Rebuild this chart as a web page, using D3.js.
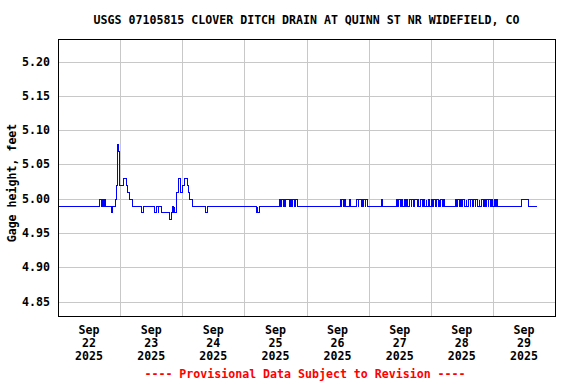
<!DOCTYPE html>
<html>
<head>
<meta charset="utf-8">
<script src="https://cdn.jsdelivr.net/npm/d3@7"></script>
<style>
  body { margin: 0; background: #fff; }
  svg text { font-family: "DejaVu Sans Mono", "Liberation Mono", monospace; font-weight: bold; font-size: 11.6px; }
</style>
</head>
<body>
<svg id="chart" width="576" height="384"></svg>
<script>
/* global d3 */
const title = "USGS 07105815 CLOVER DITCH DRAIN AT QUINN ST NR WIDEFIELD, CO";
const yTitle = "Gage height, feet";
const footer = "---- Provisional Data Subject to Revision ----";

// x range, one tick per day
const dayStart = "2025-09-22 00:00";
const dayEnd = "2025-09-30 00:00";
const dayTicks = ["2025-09-22", "2025-09-23", "2025-09-24", "2025-09-25",
                  "2025-09-26", "2025-09-27", "2025-09-28", "2025-09-29"];

// y range and ticks
const yDomain = [4.829, 5.233];
const yTicks = [4.85, 4.90, 4.95, 5.00, 5.05, 5.10, 5.15, 5.20];

// gage readings where the value changes (held until the next one)
const stepTimes = [
  "2025-09-22 00:00", "2025-09-22 16:00", "2025-09-22 16:30", "2025-09-22 17:00", "2025-09-22 17:15",
  "2025-09-22 17:45", "2025-09-22 18:15", "2025-09-22 20:30", "2025-09-22 21:00", "2025-09-22 22:00",
  "2025-09-22 22:30", "2025-09-22 22:45", "2025-09-22 23:00", "2025-09-22 23:30", "2025-09-22 23:45",
  "2025-09-23 01:15", "2025-09-23 02:15", "2025-09-23 02:45", "2025-09-23 03:15", "2025-09-23 04:45",
  "2025-09-23 08:00", "2025-09-23 08:45", "2025-09-23 13:15", "2025-09-23 13:45", "2025-09-23 14:30",
  "2025-09-23 14:45", "2025-09-23 15:45", "2025-09-23 19:00", "2025-09-23 19:30", "2025-09-23 20:00",
  "2025-09-23 20:15", "2025-09-23 20:45", "2025-09-23 21:00", "2025-09-23 21:30", "2025-09-23 21:45",
  "2025-09-23 22:15", "2025-09-23 22:30", "2025-09-23 23:00", "2025-09-23 23:15", "2025-09-23 23:45",
  "2025-09-24 00:30", "2025-09-24 01:45", "2025-09-24 02:15", "2025-09-24 02:45", "2025-09-24 03:45",
  "2025-09-24 08:45", "2025-09-24 09:30",
  "2025-09-25 04:30", "2025-09-25 04:45", "2025-09-25 05:00", "2025-09-25 05:30",
  "2025-09-25 13:30", "2025-09-25 13:45", "2025-09-25 14:00", "2025-09-25 14:45", "2025-09-25 15:00",
  "2025-09-25 15:30", "2025-09-25 15:45", "2025-09-25 17:15", "2025-09-25 17:30", "2025-09-25 18:00",
  "2025-09-25 18:15", "2025-09-25 19:15", "2025-09-25 19:30", "2025-09-25 20:15",
  "2025-09-26 13:00", "2025-09-26 13:15", "2025-09-26 13:30", "2025-09-26 14:15", "2025-09-26 14:30",
  "2025-09-26 15:00", "2025-09-26 16:30", "2025-09-26 16:45",
  "2025-09-26 19:15", "2025-09-26 19:45", "2025-09-26 20:00", "2025-09-26 21:00", "2025-09-26 21:15",
  "2025-09-26 21:45", "2025-09-26 22:00", "2025-09-26 22:30", "2025-09-26 22:45", "2025-09-26 23:15",
  "2025-09-27 04:45", "2025-09-27 05:00",
  "2025-09-27 10:45", "2025-09-27 11:00", "2025-09-27 11:30", "2025-09-27 12:15", "2025-09-27 12:30",
  "2025-09-27 13:00", "2025-09-27 13:30", "2025-09-27 14:00", "2025-09-27 14:15", "2025-09-27 15:00",
  "2025-09-27 15:30", "2025-09-27 16:15", "2025-09-27 16:30", "2025-09-27 17:00", "2025-09-27 17:30",
  "2025-09-27 18:30", "2025-09-27 18:45", "2025-09-27 19:15", "2025-09-27 19:45", "2025-09-27 20:30",
  "2025-09-27 21:00", "2025-09-27 21:30", "2025-09-27 22:00", "2025-09-27 22:15", "2025-09-27 22:45",
  "2025-09-27 23:30",
  "2025-09-28 00:00", "2025-09-28 00:30", "2025-09-28 00:45", "2025-09-28 01:30", "2025-09-28 02:00",
  "2025-09-28 02:45", "2025-09-28 03:00", "2025-09-28 03:15", "2025-09-28 03:45", "2025-09-28 04:30",
  "2025-09-28 04:45", "2025-09-28 05:15",
  "2025-09-28 09:15", "2025-09-28 09:45", "2025-09-28 10:15", "2025-09-28 11:00", "2025-09-28 11:15",
  "2025-09-28 11:45", "2025-09-28 12:15", "2025-09-28 13:00", "2025-09-28 13:30", "2025-09-28 13:45",
  "2025-09-28 14:15", "2025-09-28 15:00", "2025-09-28 15:15", "2025-09-28 16:00", "2025-09-28 16:30",
  "2025-09-28 17:00", "2025-09-28 17:15", "2025-09-28 18:00", "2025-09-28 18:30", "2025-09-28 18:45",
  "2025-09-28 19:15", "2025-09-28 20:00", "2025-09-28 20:30", "2025-09-28 21:00", "2025-09-28 21:30",
  "2025-09-28 22:00", "2025-09-28 22:15", "2025-09-28 23:00", "2025-09-28 23:15", "2025-09-28 23:45",
  "2025-09-29 00:15", "2025-09-29 00:45", "2025-09-29 01:15", "2025-09-29 01:45",
  "2025-09-29 11:00", "2025-09-29 13:30", "2025-09-29 16:45"
];
const stepValues = [
  4.99, 5.00, 4.99, 5.00, 4.99,
  5.00, 4.99, 4.98, 4.99, 5.00,
  5.02, 5.08, 5.07, 5.05, 5.02,
  5.03, 5.02, 5.01, 5.00, 4.99,
  4.98, 4.99, 4.98, 4.99, 4.98,
  4.99, 4.98, 4.97, 4.98, 4.99,
  4.98, 4.99, 4.98, 4.99, 5.01,
  5.02, 5.03, 5.02, 5.01, 5.02,
  5.03, 5.02, 5.01, 5.00, 4.99,
  4.98, 4.99,
  4.98, 4.99, 4.98, 4.99,
  5.00, 4.99, 5.00, 4.99, 5.00,
  4.99, 5.00, 4.99, 5.00, 4.99,
  5.00, 4.99, 5.00, 4.99,
  5.00, 4.99, 5.00, 4.99, 5.00,
  4.99, 5.00, 4.99,
  5.00, 4.99, 5.00, 4.99, 5.00,
  4.99, 5.00, 4.99, 5.00, 4.99,
  5.00, 4.99,
  5.00, 4.99, 5.00, 4.99, 5.00,
  4.99, 5.00, 4.99, 5.00, 4.99,
  5.00, 4.99, 5.00, 4.99, 5.00,
  4.99, 5.00, 4.99, 5.00, 4.99,
  5.00, 4.99, 5.00, 4.99, 5.00,
  4.99,
  5.00, 4.99, 5.00, 4.99, 5.00,
  4.99, 5.00, 4.99, 5.00, 4.99,
  5.00, 4.99,
  5.00, 4.99, 5.00, 4.99, 5.00,
  4.99, 5.00, 4.99, 5.00, 4.99,
  5.00, 4.99, 5.00, 4.99, 5.00,
  4.99, 5.00, 4.99, 5.00, 4.99,
  5.00, 4.99, 5.00, 4.99, 5.00,
  4.99, 5.00, 4.99, 5.00, 4.99,
  5.00, 4.99, 5.00, 4.99,
  5.00, 4.99, 4.99
];

// dimension constants
const width = 576;
const height = 384;
const plot = { left: 58, right: 555, top: 39, bottom: 316 };

const parseTime = d3.timeParse("%Y-%m-%d %H:%M");
const parseDay = d3.timeParse("%Y-%m-%d");
const data = stepTimes.map((t, i) => ({ t: parseTime(t), v: stepValues[i] }));

const x = d3.scaleTime()
  .domain([parseTime(dayStart), parseTime(dayEnd)])
  .range([plot.left, plot.right]);
const y = d3.scaleLinear()
  .domain(yDomain)
  .range([plot.bottom, plot.top]);

const svg = d3.select("#chart");
svg.append("rect").attr("width", width).attr("height", height).attr("fill", "#fff");

// grid
const days = dayTicks.map(parseDay);
svg.append("g")
  .selectAll("line")
  .data(days.slice(1))
  .join("line")
    .attr("x1", d => Math.round(x(d)) + 0.5)
    .attr("x2", d => Math.round(x(d)) + 0.5)
    .attr("y1", plot.top)
    .attr("y2", plot.bottom)
    .attr("stroke", "#c8c8c8");
svg.append("g")
  .selectAll("line")
  .data(yTicks)
  .join("line")
    .attr("x1", plot.left)
    .attr("x2", plot.right)
    .attr("y1", d => Math.round(y(d)) + 0.5)
    .attr("y2", d => Math.round(y(d)) + 0.5)
    .attr("stroke", "#c8c8c8");

// data line, snapped to pixels like the original bitmap
const line = d3.line()
  .curve(d3.curveStepAfter)
  .x(d => Math.round(x(d.t)) + 0.5)
  .y(d => Math.round(y(d.v)) + 0.5);
svg.append("path")
  .datum(data)
  .attr("d", line)
  .attr("fill", "none")
  .attr("stroke", "#0000ff")
  .attr("stroke-width", 1)
  .attr("shape-rendering", "crispEdges");

// frame
svg.append("rect")
  .attr("x", plot.left + 0.5)
  .attr("y", plot.top + 0.5)
  .attr("width", plot.right - plot.left)
  .attr("height", plot.bottom - plot.top)
  .attr("fill", "none")
  .attr("stroke", "#000");

// y tick labels
svg.append("g")
  .selectAll("text")
  .data(yTicks)
  .join("text")
    .attr("x", 50)
    .attr("y", d => y(d) + 4)
    .attr("text-anchor", "end")
    .text(d3.format(".2f"));

// x tick labels at noon of each day
const xLab = svg.append("g")
  .selectAll("text")
  .data(days)
  .join("text")
    .attr("text-anchor", "middle")
    .attr("transform", d => `translate(${x(d3.timeHour.offset(d, 12))},334)`);
xLab.append("tspan").attr("x", 0).attr("y", 0).text(d3.timeFormat("%b"));
xLab.append("tspan").attr("x", 0).attr("y", 13).text(d3.timeFormat("%d"));
xLab.append("tspan").attr("x", 0).attr("y", 26).text(d3.timeFormat("%Y"));

// titles
svg.append("text")
  .attr("x", (plot.left + plot.right) / 2)
  .attr("y", 24)
  .attr("text-anchor", "middle")
  .text(title);
svg.append("text")
  .attr("transform", `translate(16,183) rotate(-90)`)
  .attr("text-anchor", "middle")
  .text(yTitle);
svg.append("text")
  .attr("x", 305)
  .attr("y", 378)
  .attr("text-anchor", "middle")
  .attr("fill", "#ff0000")
  .text(footer);
</script>
</body>
</html>
